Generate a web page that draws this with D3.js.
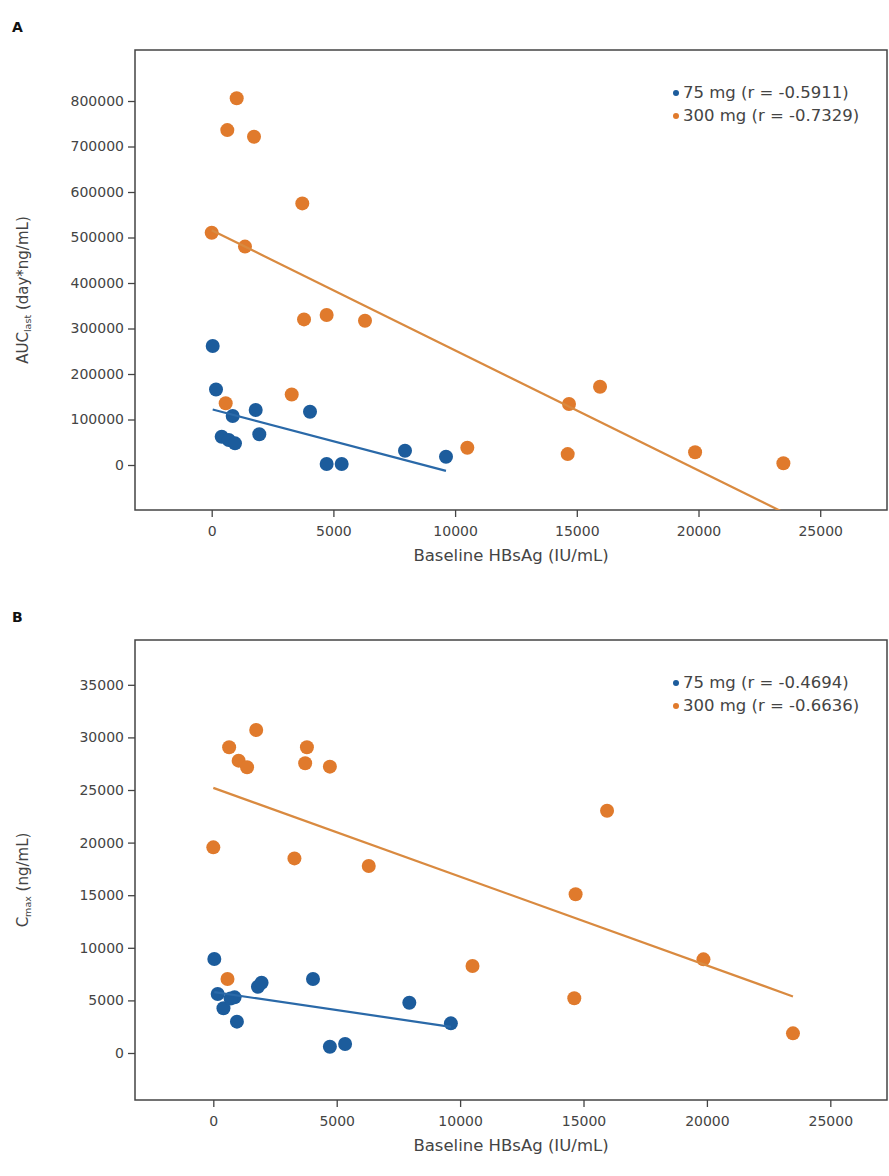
<!DOCTYPE html>
<html><head><meta charset="utf-8">
<script src="https://cdn.jsdelivr.net/npm/d3@7"></script>
<style>
body{margin:0;background:#fff;}
text{font-family:"DejaVu Sans",Verdana,sans-serif;fill:#333;}
</style></head>
<body>
<svg id="chart" width="889" height="1176"></svg>
<script>
// ---- Data ----
const seriesNames = ["75 mg", "300 mg"];
const xTicks = [0, 5000, 10000, 15000, 20000, 25000];
const yTicksA = [0, 100000, 200000, 300000, 400000, 500000, 600000, 700000, 800000];
const yTicksB = [0, 5000, 10000, 15000, 20000, 25000, 30000, 35000];
const xDomainA = [-3151, 27744];
const xDomainB = [-3173, 27297];
const yDomainA = [-98900, 912100];
const yDomainB = [-4468, 39259];

// Baseline HBsAg (IU/mL), shared by both panels
const x75 = [41, 177, 862, 1808, 4039, 411, 700, 957, 1956, 4723, 5340, 7942, 9626];
const x300 = [1027, 641, 1738, 3722, 0, 1368, 3793, 4723, 6298, 3287, 575, 10502, 14680, 15954, 14626, 19860, 23487];

// Panel A: AUClast (day*ng/mL)
const a75y = [261500, 166000, 107700, 121000, 117000, 62200, 55000, 47600, 67500, 2200, 2200, 31400, 18200];
const a300y = [806000, 736000, 721500, 575000, 510500, 480000, 320000, 329700, 317000, 155000, 135600, 38000, 134000, 172000, 24000, 28000, 3700];
const aR = ["-0.5911", "-0.7329"];
const aFitIntercept = [122600, 516000];
const aFitSlope = [-14.09, -26.4];

// Panel B: Cmax (ng/mL)
const b75y = [8935, 5610, 5290, 6300, 7030, 4250, 5180, 2980, 6680, 600, 855, 4780, 2820];
const b300y = [27790, 29060, 30700, 27540, 19550, 27160, 29060, 27220, 17780, 18500, 7030, 8270, 15090, 23030, 5200, 8900, 1870];
const bR = ["-0.4694", "-0.6636"];
const bFitIntercept = [5800, 25200];
const bFitSlope = [-0.344, -0.844];

// ---- Style ----
const colors = ["#1c5c9c", "#e07a2c"];
const lineColors = ["#2a69a8", "#d98a40"];
const svg = d3.select("#chart");

function panel(cfg) {
  const L = 135, R = 887, T = cfg.top, B = cfg.top + 460;
  const x = d3.scaleLinear().domain(cfg.xDomain).range([L, R]);
  const y = d3.scaleLinear().domain(cfg.yDomain).range([B, T]);
  const g = svg.append("g");

  g.append("text").attr("x", 12).attr("y", T - 18).attr("font-size", 14)
    .attr("font-weight", "bold").style("fill", "#111").text(cfg.letter);

  const cid = "clip" + cfg.letter;
  svg.append("clipPath").attr("id", cid).append("rect")
    .attr("x", L).attr("y", T).attr("width", R - L).attr("height", B - T);

  const ya = g.append("g").attr("transform", `translate(${L},0)`)
    .call(d3.axisLeft(y).tickValues(cfg.yTicks).tickFormat(d3.format("d")).tickSize(7).tickPadding(4));
  const xa = g.append("g").attr("transform", `translate(0,${B})`)
    .call(d3.axisBottom(x).tickValues(xTicks).tickFormat(d3.format("d")).tickSize(7).tickPadding(9));
  [ya, xa].forEach(a => {
    a.select(".domain").remove();
    a.selectAll("line").attr("stroke", "#444").attr("stroke-width", 1.3);
    a.selectAll("text").attr("font-size", 14).style("fill", "#444")
      .attr("font-family", "DejaVu Sans, Verdana, sans-serif");
  });
  g.append("rect").attr("x", L).attr("y", T).attr("width", R - L).attr("height", B - T)
    .attr("fill", "none").attr("stroke", "#444").attr("stroke-width", 1.5);

  g.append("text").attr("x", 511).attr("y", B + 51).attr("text-anchor", "middle")
    .attr("font-size", 16.5).style("fill", "#444").text("Baseline HBsAg (IU/mL)");
  const yt = g.append("text")
    .attr("transform", `translate(28,${cfg.yTitleY}) rotate(-90)`)
    .attr("text-anchor", "middle").attr("font-size", 15).style("fill", "#444");
  yt.append("tspan").text(cfg.yTitle[0]);
  yt.append("tspan").attr("font-size", 9.5).attr("dy", 3).text(cfg.yTitle[1]);
  yt.append("tspan").attr("dy", -3).text(cfg.yTitle[2]);

  cfg.series.forEach((s, i) => {
    g.append("g").selectAll("circle").data(s.x.map((d, k) => [d, s.y[k]])).join("circle")
      .attr("cx", d => x(d[0])).attr("cy", d => y(d[1])).attr("r", 7)
      .attr("fill", colors[i]);
  });
  cfg.series.forEach((s, i) => {
    const x0 = d3.min(s.x), x1 = d3.max(s.x);
    const f = v => cfg.fitI[i] + cfg.fitS[i] * v;
    g.append("line").attr("clip-path", `url(#${cid})`)
      .attr("x1", x(x0)).attr("y1", y(f(x0))).attr("x2", x(x1)).attr("y2", y(f(x1)))
      .attr("stroke", lineColors[i]).attr("stroke-width", 2.2);
  });

  seriesNames.forEach((n, i) => {
    const ly = T + 48 + i * 23;
    g.append("circle").attr("cx", 676).attr("cy", ly - 5).attr("r", 3).attr("fill", colors[i]);
    g.append("text").attr("x", 683).attr("y", ly).attr("font-size", 16.5).style("fill", "#444")
      .text(`${n} (r = ${cfg.r[i]})`);
  });
}

panel({letter: "A", top: 50, xDomain: xDomainA, yDomain: yDomainA, yTicks: yTicksA, yTitleY: 290,
  yTitle: ["AUC", "last", " (day*ng/mL)"],
  series: [{x: x75, y: a75y}, {x: x300, y: a300y}],
  fitI: aFitIntercept, fitS: aFitSlope, r: aR});
panel({letter: "B", top: 640, xDomain: xDomainB, yDomain: yDomainB, yTicks: yTicksB, yTitleY: 880,
  yTitle: ["C", "max", " (ng/mL)"],
  series: [{x: x75, y: b75y}, {x: x300, y: b300y}],
  fitI: bFitIntercept, fitS: bFitSlope, r: bR});
</script>
</body></html>
